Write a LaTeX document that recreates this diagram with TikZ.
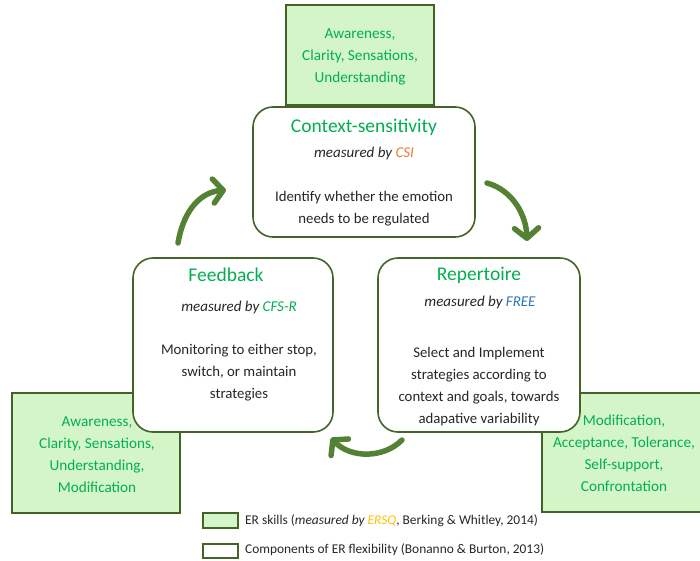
\documentclass[tikz,border=0pt]{standalone}
\usepackage{fontspec}
\setmainfont{Carlito}
\usetikzlibrary{arrows.meta}
\definecolor{frame}{RGB}{66,100,38}
\definecolor{skillfill}{RGB}{212,245,200}
\definecolor{skilltext}{RGB}{0,176,80}
\definecolor{loop}{RGB}{84,130,53}
\definecolor{body}{RGB}{38,38,38}
\definecolor{csi}{RGB}{237,125,49}
\definecolor{free}{RGB}{46,117,182}
\definecolor{ersq}{RGB}{255,192,0}
\tikzset{
  skillbox/.style={draw=frame, line width=1.6pt, fill=skillfill, inner sep=0pt},
  compbox/.style={draw=frame, line width=1.6pt, fill=white, rounded corners=20pt, inner sep=0pt},
  skilltxt/.style={inner sep=0pt, align=center, text=skilltext, font=\fontsize{15.2}{22}\selectfont},
  titletxt/.style={inner sep=0pt, text=skilltext, font=\fontsize{19.5}{22}\selectfont},
  bytxt/.style={inner sep=0pt, text=body, font=\fontsize{15}{16}\selectfont\itshape},
  bodytxt/.style={inner sep=0pt, align=center, text=body, font=\fontsize{14.8}{22}\selectfont},
  legtxt/.style={inner sep=0pt, anchor=west, text=body, font=\fontsize{13.4}{15}\selectfont},
  cycle/.style={draw=loop, line width=5.5pt, line cap=round,
    -{Straight Barb[length=10pt, width=24pt, round]}},
}
\begin{document}
\begin{tikzpicture}[x=1pt, y=-1pt]
\useasboundingbox (0,0) rectangle (700,560);

% ER skill boxes (behind the components)
\node[skillbox, minimum width=148pt, minimum height=100pt] (skTop) at (360,55) {};
\node[skillbox, minimum width=168pt, minimum height=120pt] (skLeft) at (96,453) {};
\node[skillbox, minimum width=164pt, minimum height=119pt] (skRight) at (624,452.5) {};

\node[skilltxt] (skTopT) at (360,56.5) {Awareness,\\Clarity, Sensations,\\Understanding};
\node[skilltxt] (skLeftT) at (97,454.5) {Awareness,\\Clarity, Sensations,\\Understanding,\\Modification};
\node[skilltxt] (skRightT) at (624,453) {Modification,\\Acceptance, Tolerance,\\Self-support,\\Confrontation};

% components of ER flexibility
\node[compbox, minimum width=222pt, minimum height=130pt] (ctx) at (364,172) {};
\node[compbox, minimum width=200pt, minimum height=174pt] (fb) at (233,345) {};
\node[compbox, minimum width=202pt, minimum height=174pt] (rep) at (479,345) {};

\node[titletxt] (ctxT) at (364,127) {Context-sensitivity};
\node[bytxt] (ctxM) at (364,153) {measured by \textcolor{csi}{CSI}};
\node[bodytxt] (ctxB) at (364,209) {Identify whether the emotion\\needs to be regulated};

\node[titletxt] (fbT) at (226,275) {Feedback};
\node[bytxt] (fbM) at (239,307) {measured by \textcolor{skilltext}{CFS-R}};
\node[bodytxt] (fbB) at (239,372.5) {Monitoring to either stop,\\switch, or maintain\\strategies};

\node[titletxt] (repT) at (479,275) {Repertoire};
\node[bytxt] (repM) at (480,302) {measured by \textcolor{free}{FREE}};
\node[bodytxt] (repB) at (479,386.5) {Select and Implement\\strategies according to\\context and goals, towards\\adapative variability};

% cycle arrows
\coordinate (a1s) at (178,243);
\coordinate (a1e) at (226,190);
\coordinate (a2s) at (487,183);
\coordinate (a2e) at (527,241);
\coordinate (a3s) at (402,440);
\coordinate (a3e) at (331,438);
\draw[cycle] (a1s) .. controls (184,208) and (202,192) .. (a1e);
\draw[cycle] (a2s) .. controls (512,190) and (526,214) .. (a2e);
\draw[cycle] (a3s) .. controls (383,459) and (350,458) .. (a3e);

% legend
\node[skillbox, line width=1.4pt, minimum width=35pt, minimum height=15pt] (lg1) at (220.5,520.5) {};
\node[draw=frame, line width=1.4pt, fill=white, inner sep=0pt, minimum width=35pt, minimum height=14pt] (lg2) at (220.5,551) {};
\node[legtxt] (lg1T) at (245,520.5) {ER skills (\textit{measured by \textcolor{ersq}{ERSQ}}, Berking \& Whitley, 2014)};
\node[legtxt] (lg2T) at (245,550) {Components of ER flexibility (Bonanno \& Burton, 2013)};
\end{tikzpicture}
\end{document}
